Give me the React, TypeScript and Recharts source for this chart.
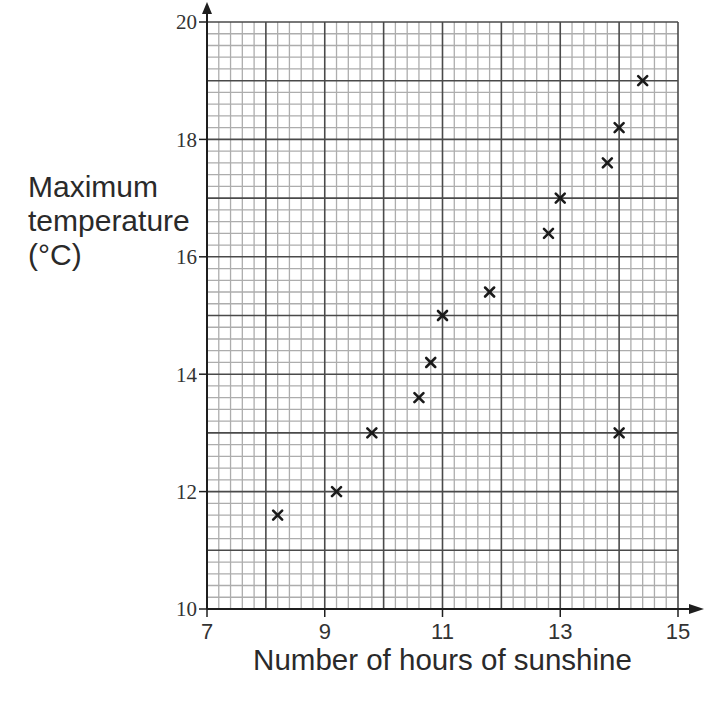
import React from 'react';
import { ScatterChart, Scatter, XAxis, YAxis, ReferenceLine, ReferenceDot, Label } from 'recharts';

const hours = [8.2, 9.2, 9.8, 10.6, 10.8, 11.0, 11.8, 12.8, 13.0, 13.8, 14.0, 14.4, 14.0];
const temps = [11.6, 12.0, 13.0, 13.6, 14.2, 15.0, 15.4, 16.4, 17.0, 17.6, 18.2, 19.0, 13.0];
const xTicks = [7, 9, 11, 13, 15];
const yTicks = [10, 12, 14, 16, 18, 20];
const xDomain: [number, number] = [7, 15];
const yDomain: [number, number] = [10, 20];
const xLabel = 'Number of hours of sunshine';
const yLabelLines = ['Maximum', 'temperature', '(°C)'];

const data = hours.map((h, i) => ({ x: h, y: temps[i] }));

function gridValues(lo: number, hi: number, step: number) {
  const out: number[] = [];
  const n = Math.round((hi - lo) / step);
  for (let i = 0; i <= n; i++) out.push(Math.round((lo + i * step) * 10) / 10);
  return out;
}
const xMinor = gridValues(7, 15, 0.2).filter((v) => Math.abs(v - Math.round(v)) > 1e-6);
const yMinor = gridValues(10, 20, 0.2).filter((v) => Math.abs(v - Math.round(v)) > 1e-6);
const xMajor = gridValues(7, 15, 1);
const yMajor = gridValues(10, 20, 1);

const MINOR = '#adadad';
const MAJOR = '#4a4a4a';
const AXIS = '#1e1e1e';

const Cross = (props: any) => {
  const { cx, cy } = props;
  const a = 4.5;
  return (
    <g stroke="#1a1a1a" strokeWidth={2.6} strokeLinecap="round">
      <line x1={cx - a} y1={cy - a} x2={cx + a} y2={cy + a} />
      <line x1={cx - a} y1={cy + a} x2={cx + a} y2={cy - a} />
    </g>
  );
};

const UpArrow = (props: any) => {
  const { cx, cy } = props;
  return (
    <g>
      <line x1={cx} y1={cy} x2={cx} y2={cy - 12} stroke={AXIS} strokeWidth={2} />
      <path d={`M ${cx} ${cy - 20} L ${cx - 5} ${cy - 8} L ${cx + 5} ${cy - 8} Z`} fill={AXIS} />
    </g>
  );
};

const RightArrow = (props: any) => {
  const { cx, cy } = props;
  return (
    <g>
      <line x1={cx} y1={cy} x2={cx + 14} y2={cy} stroke={AXIS} strokeWidth={2} />
      <path d={`M ${cx + 26} ${cy} L ${cx + 11} ${cy - 5} L ${cx + 11} ${cy + 5} Z`} fill={AXIS} />
    </g>
  );
};

const YTitle = () => (
  <text
    fontFamily="Liberation Sans, Arial, sans-serif"
    fontSize={30}
    fill="#2a2a2a"
  >
    {yLabelLines.map((l, i) => (
      <tspan key={i} x={28} y={197 + i * 34}>
        {l}
      </tspan>
    ))}
  </text>
);

export default function App() {
  return (
    <div style={{ position: 'absolute', left: 0, top: 0, width: 720, height: 704, background: '#fff' }}>
      <ScatterChart width={720} height={704} margin={{ top: 22, right: 42, bottom: 0, left: 0 }}>
        {xMinor.map((v) => (
          <ReferenceLine key={'xm' + v} x={v} stroke={MINOR} strokeWidth={1.3} />
        ))}
        {yMinor.map((v) => (
          <ReferenceLine key={'ym' + v} y={v} stroke={MINOR} strokeWidth={1.3} />
        ))}
        {xMajor.map((v) => (
          <ReferenceLine key={'xM' + v} x={v} stroke={MAJOR} strokeWidth={1.6} />
        ))}
        {yMajor.map((v) => (
          <ReferenceLine key={'yM' + v} y={v} stroke={MAJOR} strokeWidth={1.6} />
        ))}
        <XAxis
          type="number"
          dataKey="x"
          domain={xDomain}
          ticks={xTicks}
          allowDataOverflow
          height={95}
          axisLine={{ stroke: AXIS, strokeWidth: 2 }}
          tickLine={{ stroke: AXIS, strokeWidth: 1.5 }}
          tickSize={8}
          tickMargin={6}
          tick={{ fontFamily: 'Liberation Sans, Arial, sans-serif', fontSize: 22, fill: '#333' }}
          interval={0}
        >
          <Label
            value={xLabel}
            position="insideBottom"
            offset={34}
            style={{ fontFamily: 'Liberation Sans, Arial, sans-serif', fontSize: 29.5, fill: '#2a2a2a' }}
          />
        </XAxis>
        <YAxis
          type="number"
          dataKey="y"
          domain={yDomain}
          ticks={yTicks}
          allowDataOverflow
          width={207}
          axisLine={{ stroke: AXIS, strokeWidth: 2 }}
          tickLine={{ stroke: AXIS, strokeWidth: 1.5 }}
          tickSize={8}
          tickMargin={2}
          tick={{ fontFamily: 'Liberation Serif, Times New Roman, serif', fontSize: 21, fill: '#333' }}
          interval={0}
        >
          <Label content={<YTitle />} />
        </YAxis>
        <ReferenceDot x={7} y={20} r={0} ifOverflow="visible" shape={<UpArrow />} />
        <ReferenceDot x={15} y={10} r={0} ifOverflow="visible" shape={<RightArrow />} />
        <Scatter data={data} isAnimationActive={false} shape={<Cross />} />
      </ScatterChart>
    </div>
  );
}
